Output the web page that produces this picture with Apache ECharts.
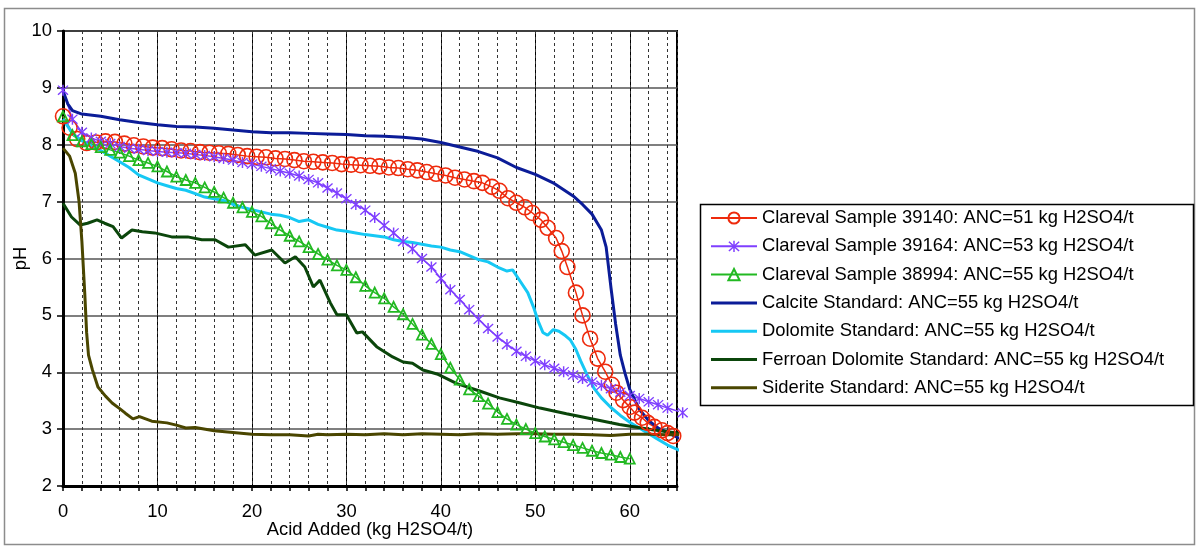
<!DOCTYPE html>
<html>
<head>
<meta charset="utf-8">
<script src="https://cdn.jsdelivr.net/npm/echarts@6/dist/echarts.min.js"></script>
<style>
  html, body { margin: 0; padding: 0; background: #fff; }
  #chart { width: 1200px; height: 547px; }
</style>
</head>
<body>
<div id="chart"></div>
<script>
// titration curves: acid added (kg H2SO4/t) vs pH
const names = [
  'Clareval Sample 39140: ANC=51 kg H2SO4/t',
  'Clareval Sample 39164: ANC=53 kg H2SO4/t',
  'Clareval Sample 38994: ANC=55 kg H2SO4/t',
  'Calcite Standard: ANC=55 kg H2SO4/t',
  'Dolomite Standard: ANC=55 kg H2SO4/t',
  'Ferroan Dolomite Standard: ANC=55 kg H2SO4/t',
  'Siderite Standard: ANC=55 kg H2SO4/t'
]

const x39140 = [0, 0.7, 1.5, 2.5, 3.5, 4.5, 5.5, 6.5, 7.5, 8.5, 9.5, 10.5, 11.5, 12.5, 13.5, 14.5, 15.5, 16.5, 17.5, 18.5, 19.5, 20.5, 21.5, 22.5, 23.5, 24.5, 25.5, 26.5, 27.5, 28.5, 29.5, 30.5, 31.5, 32.5, 33.5, 34.5, 35.5, 36.5, 37.5, 38.5, 39.5, 40.5, 41.5, 42.5, 43.5, 44.4, 45.4, 46.2, 47.1, 48.0, 48.9, 49.7, 50.6, 51.3, 52.2, 52.8, 53.4, 54.3, 55.0, 55.8, 56.6, 57.4, 58.1, 58.6, 59.3, 60.0, 60.5, 61.3, 61.9, 62.6, 63.4, 64.0, 64.6]
const ph39140 = [8.5, 8.3, 8.1, 8.03, 8.04, 8.06, 8.05, 8.02, 7.99, 7.97, 7.95, 7.94, 7.92, 7.9, 7.89, 7.87, 7.86, 7.85, 7.84, 7.82, 7.8, 7.79, 7.78, 7.76, 7.75, 7.73, 7.71, 7.7, 7.69, 7.68, 7.66, 7.65, 7.64, 7.63, 7.62, 7.6, 7.59, 7.57, 7.55, 7.52, 7.49, 7.46, 7.42, 7.39, 7.36, 7.33, 7.26, 7.19, 7.06, 6.98, 6.9, 6.8, 6.68, 6.54, 6.36, 6.13, 5.85, 5.4, 5.0, 4.59, 4.24, 4.01, 3.78, 3.64, 3.51, 3.39, 3.29, 3.2, 3.11, 3.04, 2.98, 2.93, 2.88]

const x39164 = [0, 1, 2, 3, 4, 5, 6, 7, 8, 9, 10, 11, 12, 13, 14, 15, 16, 17, 18, 19, 20, 21, 22, 23, 24, 25, 26, 27, 28, 29, 30, 31, 32, 33, 34, 35, 36, 37, 38, 39, 40, 41, 42, 43, 44, 45, 46, 47, 48, 49, 50, 51, 52, 53, 54, 55, 56, 57, 58, 59, 60, 61, 62, 63, 64, 65.6]
const ph39164 = [8.96, 8.45, 8.22, 8.12, 8.06, 8.02, 7.97, 7.94, 7.92, 7.9, 7.88, 7.87, 7.86, 7.85, 7.83, 7.81, 7.79, 7.76, 7.73, 7.69, 7.66, 7.62, 7.58, 7.54, 7.5, 7.45, 7.39, 7.33, 7.24, 7.15, 7.05, 6.95, 6.85, 6.72, 6.58, 6.45, 6.3, 6.17, 6.0, 5.85, 5.65, 5.45, 5.28, 5.1, 4.93, 4.77, 4.62, 4.49, 4.37, 4.28, 4.2, 4.13, 4.07, 4.01, 3.95, 3.89, 3.83, 3.77, 3.71, 3.65, 3.59, 3.54, 3.48, 3.43, 3.37, 3.29]

const x38994 = [0, 1, 2, 3, 4, 5, 6, 7, 8, 9, 10, 11, 12, 13, 14, 15, 16, 17, 18, 19, 20, 21, 22, 23, 24, 25, 26, 27, 28, 29, 30, 31, 32, 33, 34, 35, 36, 37, 38, 39, 40, 41, 42, 43, 44, 45, 46, 47, 48, 49, 50, 51, 52, 53, 54, 55, 56, 57, 58, 59, 60]
const ph38994 = [8.5, 8.17, 8.06, 8.01, 7.96, 7.91, 7.86, 7.8, 7.73, 7.68, 7.62, 7.53, 7.44, 7.38, 7.33, 7.25, 7.17, 7.07, 6.98, 6.9, 6.82, 6.74, 6.62, 6.5, 6.4, 6.3, 6.2, 6.08, 5.98, 5.88, 5.8, 5.67, 5.52, 5.4, 5.3, 5.15, 5.02, 4.85, 4.66, 4.5, 4.32, 4.08, 3.87, 3.7, 3.58, 3.45, 3.3, 3.18, 3.08, 3.0, 2.93, 2.87, 2.82, 2.77, 2.72, 2.67, 2.62, 2.58, 2.55, 2.51, 2.48]

const xCalcite = [0, 0.5, 1, 2, 4, 6, 8, 10, 12, 14, 16, 18, 20, 22, 24, 26, 28, 30, 32, 34, 36, 38, 40, 42, 44, 46, 48, 50, 52, 54, 55, 56, 57, 57.5, 58, 58.5, 59, 59.5, 60, 61, 62, 63, 64, 65.6]
const phCalcite = [8.95, 8.72, 8.6, 8.54, 8.5, 8.44, 8.39, 8.35, 8.32, 8.31, 8.29, 8.26, 8.23, 8.21, 8.21, 8.2, 8.19, 8.18, 8.16, 8.15, 8.13, 8.1, 8.04, 7.96, 7.88, 7.77, 7.6, 7.48, 7.32, 7.1, 6.95, 6.78, 6.5, 6.2, 5.5, 4.85, 4.3, 3.98, 3.7, 3.35, 3.15, 3.02, 2.94, 2.81]

const xDolomite = [0, 1, 2, 3, 4, 5, 6, 7, 8, 9, 10, 11, 12, 13, 14, 15, 16, 17, 18, 19, 20, 21, 22, 23, 24, 25, 26, 27, 28, 29, 30, 31, 32, 33, 34, 35, 36, 37, 38, 39, 40, 41, 42, 43, 44, 45, 46, 47, 47.6, 48.4, 49.2, 49.8, 50.3, 50.8, 51.3, 51.9, 52.5, 53.2, 53.7, 54.3, 54.8, 55.5, 56.2, 57, 58, 59, 60, 61, 62, 63, 64, 65.6]
const phDolomite = [8.45, 8.2, 8.07, 7.98, 7.9, 7.8, 7.7, 7.6, 7.47, 7.4, 7.33, 7.28, 7.23, 7.2, 7.14, 7.08, 7.05, 7.02, 6.95, 6.9, 6.86, 6.82, 6.78, 6.76, 6.72, 6.65, 6.68, 6.6, 6.55, 6.5, 6.48, 6.45, 6.42, 6.4, 6.38, 6.33, 6.3, 6.28, 6.25, 6.22, 6.2, 6.15, 6.12, 6.05, 5.98, 5.94, 5.85, 5.78, 5.8, 5.6, 5.4, 5.15, 4.9, 4.7, 4.65, 4.75, 4.72, 4.64, 4.57, 4.4, 4.2, 3.95, 3.72, 3.55, 3.38, 3.24, 3.12, 3.02, 2.92, 2.82, 2.72, 2.6]

const xFerroan = [0, 0.9, 1.8, 2.6, 3.6, 4.4, 5.3, 6.2, 7.3, 8.4, 9.7, 11.5, 13.2, 14.7, 16.1, 17.5, 19.3, 20.3, 22.1, 23.5, 24.6, 25.6, 26.5, 27.2, 28.3, 29.0, 30.0, 31.1, 31.7, 33.2, 34.9, 36.0, 37.0, 38.1, 39.6, 41.7, 44.1, 46.2, 48.4, 50.5, 53.3, 55.4, 58.9, 62.4, 65.6]
const phFerroan = [6.97, 6.73, 6.59, 6.62, 6.68, 6.62, 6.56, 6.36, 6.5, 6.47, 6.45, 6.38, 6.38, 6.33, 6.33, 6.2, 6.24, 6.06, 6.15, 5.92, 6.03, 5.85, 5.5, 5.62, 5.22, 5.01, 5.01, 4.69, 4.71, 4.45, 4.27, 4.18, 4.16, 4.04, 3.97, 3.8, 3.67, 3.55, 3.46, 3.37, 3.27, 3.2, 3.08, 2.99, 2.92]

const xSiderite = [0, 0.7, 1.3, 1.7, 2.0, 2.3, 2.5, 2.7, 3.1, 3.7, 4.5, 5.2, 6.0, 6.6, 7.4, 8.1, 9.4, 11, 12, 13, 14, 16, 18, 20, 22, 24, 26, 27, 28, 30, 32, 34, 36, 38, 40, 42, 44, 46, 48, 50, 52, 54, 56, 58, 60, 62, 64, 65.6]
const phSiderite = [7.94, 7.8, 7.5, 7.0, 6.3, 5.4, 4.7, 4.3, 4.05, 3.74, 3.58, 3.46, 3.36, 3.28, 3.18, 3.22, 3.14, 3.11, 3.07, 3.02, 3.03, 2.97, 2.94, 2.91, 2.9, 2.9, 2.88, 2.91, 2.9, 2.91, 2.9, 2.92, 2.9, 2.92, 2.91, 2.9, 2.92, 2.91, 2.92, 2.92, 2.91, 2.91, 2.9, 2.89, 2.91, 2.91, 2.9, 2.91]

const colors = ['#ee2a0c', '#7f3fff', '#22b922', '#0b1c98', '#16c8f4', '#0b460b', '#4a4600']

const FONT = '"Liberation Sans", Arial, sans-serif'
const FS = 18.4
// excel-like asterisk marker (x with a vertical bar)
const STAR = 'path://M8.8 0H11.2V20H8.8Z M0.9 2.6L2.6 0.9L19.1 17.4L17.4 19.1Z M17.6 0.9L19.1 2.6L2.6 19.1L0.9 17.4Z'
// plain legend line: 3px bar in a 46x14 box (corner dots fix the box)
const LINE_ICON = 'path://M0 0H0.01V0.01H0Z M0 5.5H46V8.5H0Z M45.99 13.99H46V14H45.99Z'

const zip = (xs, ys) => xs.map((x, i) => [x, ys[i]])

const chart = echarts.init(document.getElementById('chart'))

const lineSeries = (i, data, opts) => Object.assign({
  name: names[i],
  type: 'line',
  data: data,
  xAxisIndex: 0,
  clip: false,
  showSymbol: false,
  symbol: 'none',
  lineStyle: { color: colors[i], width: 3 },
  itemStyle: { color: colors[i] },
  emphasis: { disabled: true },
  animation: false
}, opts)

const legendData = names.map((n, i) => i < 3 ? { name: n } : {
  name: n, icon: LINE_ICON, itemStyle: { color: colors[i], borderWidth: 0 }
})

chart.setOption({
  backgroundColor: '#fff',
  animation: false,
  textStyle: { fontFamily: FONT },
  grid: {
    left: 63, right: 523, top: 31, bottom: 61,
    outerBoundsMode: 'none', containLabel: false,
    show: true, borderColor: '#000', borderWidth: 2
  },
  legend: {
    orient: 'vertical',
    left: 710, top: 209,
    padding: 0,
    itemWidth: 46, itemHeight: 14, itemGap: 10.3,
    textStyle: { fontSize: FS, color: '#000', fontFamily: FONT, lineHeight: 18 },
    data: legendData
  },
  graphic: [
    { type: 'rect', shape: { x: 4.5, y: 8.5, width: 1190, height: 536 },
      style: { fill: null, stroke: '#8c8c8c', lineWidth: 1.5 }, z: -1, silent: true },
    { type: 'rect', shape: { x: 700.5, y: 204.5, width: 493, height: 201 },
      style: { fill: '#fff', stroke: '#000', lineWidth: 1.5 }, z: 0, silent: true }
  ],
  xAxis: [
    {
      type: 'value', min: 0, max: 65, interval: 10,
      name: 'Acid Added (kg H2SO4/t)',
      nameLocation: 'middle', nameGap: 35, nameMoveOverlap: false,
      nameTextStyle: { fontSize: FS, color: '#000', fontFamily: FONT },
      axisLine: { show: true, onZero: false, lineStyle: { color: '#000', width: 3 } },
      axisTick: { show: true, length: 5, lineStyle: { color: '#000', width: 1.5 } },
      axisLabel: { fontSize: FS, color: '#000', margin: 17, showMaxLabel: false, fontFamily: FONT },
      splitLine: { show: true, lineStyle: { color: '#000', width: 1 } }
    },
    {
      // every 2 units: the dashed lines and small ticks
      type: 'value', min: 0, max: 65, interval: 2, position: 'bottom',
      axisLine: { show: false },
      axisTick: { show: true, length: 5, lineStyle: { color: '#000', width: 1.5 } },
      axisLabel: { show: false },
      splitLine: { show: true, lineStyle: { color: '#333', width: 1, type: [3, 3] } }
    }
  ],
  yAxis: {
    type: 'value', min: 2, max: 10, interval: 1,
    name: 'pH', nameLocation: 'middle', nameGap: 33, nameMoveOverlap: false,
    nameTextStyle: { fontSize: FS, color: '#000', fontFamily: FONT },
    axisLine: { show: true, lineStyle: { color: '#000', width: 3 } },
    axisTick: { show: true, length: 6, lineStyle: { color: '#000', width: 1.5 } },
    axisLabel: { fontSize: FS, color: '#000', margin: 11, fontFamily: FONT },
    splitLine: { show: true, lineStyle: { color: '#555', width: 1.5 } }
  },
  series: [
    lineSeries(0, zip(x39140, ph39140), {
      showSymbol: true, symbol: 'circle', symbolSize: 15,
      lineStyle: { color: colors[0], width: 1.5 },
      itemStyle: { color: 'rgba(0,0,0,0)', borderColor: colors[0], borderWidth: 1.6 }
    }),
    lineSeries(1, zip(x39164, ph39164), {
      showSymbol: true, symbol: STAR, symbolSize: 11,
      lineStyle: { color: colors[1], width: 1.5 },
      itemStyle: { color: colors[1] }
    }),
    lineSeries(2, zip(x38994, ph38994), {
      showSymbol: true, symbol: 'triangle', symbolSize: 10,
      lineStyle: { color: colors[2], width: 1.5 },
      itemStyle: { color: 'rgba(0,0,0,0)', borderColor: colors[2], borderWidth: 1.8 }
    }),
    lineSeries(3, zip(xCalcite, phCalcite)),
    lineSeries(4, zip(xDolomite, phDolomite)),
    lineSeries(5, zip(xFerroan, phFerroan)),
    lineSeries(6, zip(xSiderite, phSiderite))
  ]
})
</script>
</body>
</html>
